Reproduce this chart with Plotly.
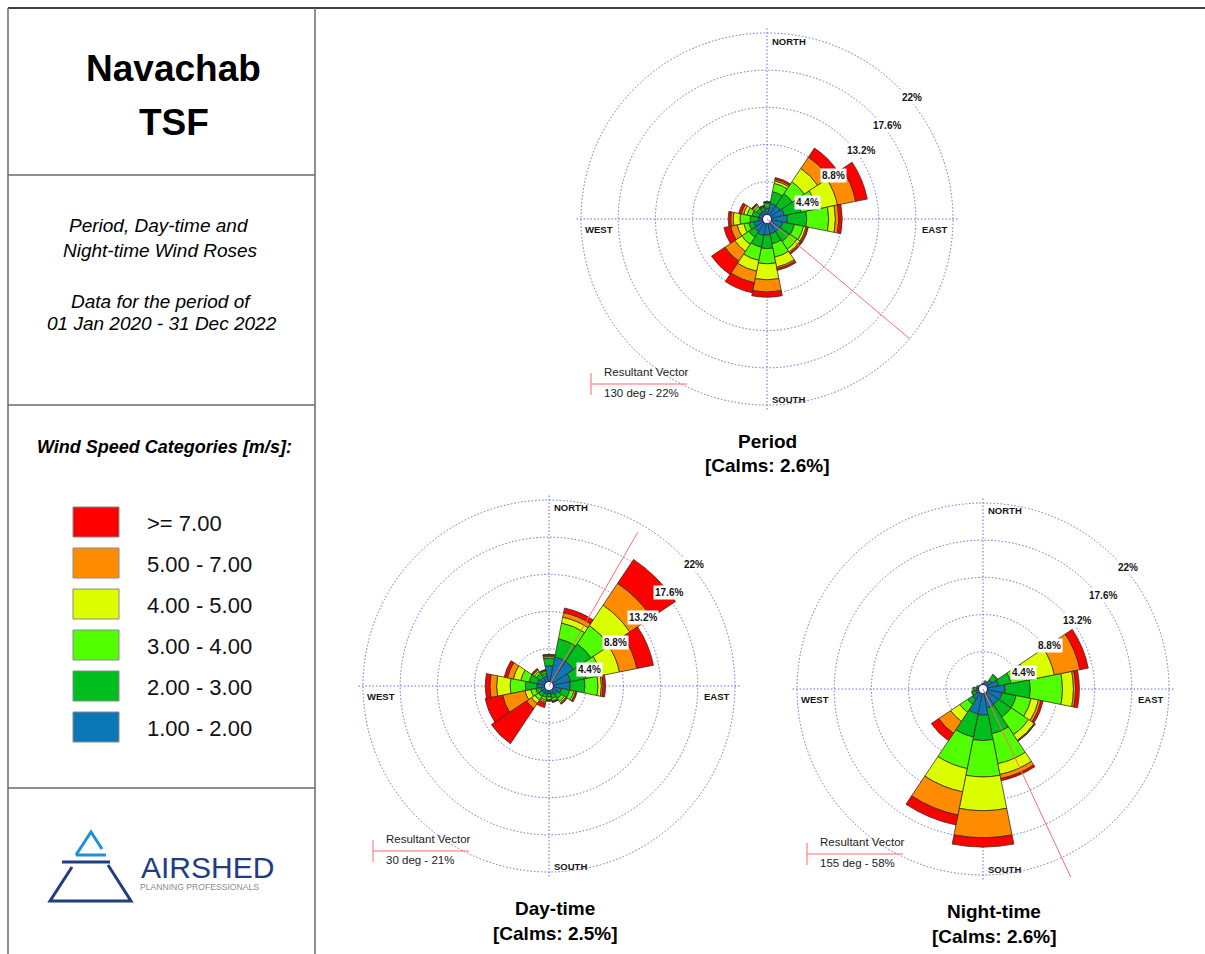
import math
import plotly.graph_objects as go

# ---------------------------------------------------------------- data
DIRECTIONS = [0, 22.5, 45, 67.5, 90, 112.5, 135, 157.5,
              180, 202.5, 225, 247.5, 270, 292.5, 315, 337.5]

SPEED_LABELS = ["1.00 - 2.00", "2.00 - 3.00", "3.00 - 4.00",
                "4.00 - 5.00", "5.00 - 7.00", ">= 7.00"]

RING_TICKS = [4.4, 8.8, 13.2, 17.6, 22]
COMPASS = ["NORTH", "EAST", "SOUTH", "WEST"]
COMPASS_DEG = [0, 90, 180, 270]

# frequency of occurrence (%) per direction, one list per speed class
PERIOD_1_2 = [1.3, 1.9, 1.9, 2.1, 2.4, 1.9, 1.8, 1.8, 1.9, 2.0, 1.8, 1.6, 1.0, 1.0, 1.0, 1.0]
PERIOD_2_3 = [0.6, 1.4, 1.7, 2.0, 2.3, 1.4, 1.4, 1.2, 1.6, 1.4, 0.8, 0.6, 1.0, 0.8, 0.5, 0.4]
PERIOD_3_4 = [0.1, 1.0, 1.7, 1.9, 2.6, 1.1, 1.1, 1.6, 1.8, 1.6, 1.0, 0.6, 1.2, 0.6, 0.3, 0.1]
PERIOD_4_5 = [0.03, 0.3, 1.9, 2.5, 0.8, 0.3, 0.4, 1.2, 1.9, 1.3, 1.0, 0.8, 0.8, 0.4, 0.2, 0.05]
PERIOD_5_7 = [0.02, 0.2, 1.6, 2.2, 0.4, 0.15, 0.15, 0.2, 1.45, 1.4, 1.4, 0.8, 0.3, 0.3, 0.1, 0.05]
PERIOD_7UP = [0.0, 0.2, 1.3, 1.4, 0.4, 0.15, 0.15, 0.2, 0.6, 1.2, 1.9, 0.8, 0.3, 0.3, 0.1, 0.05]

DAY_1_2 = [2.4, 3.5, 3.5, 2.6, 2.5, 1.5, 1.2, 1.0, 0.9, 1.0, 1.0, 1.0, 1.45, 1.4, 1.2, 1.2]
DAY_2_3 = [0.9, 2.2, 2.5, 1.9, 1.75, 1.0, 0.6, 0.5, 0.4, 0.4, 0.5, 0.6, 1.35, 1.0, 0.6, 0.4]
DAY_3_4 = [0.2, 1.9, 2.6, 1.8, 1.55, 0.5, 0.4, 0.3, 0.3, 0.3, 0.5, 0.6, 1.8, 1.0, 0.3, 0.2]
DAY_4_5 = [0.1, 0.7, 2.9, 2.2, 0.4, 0.2, 0.2, 0.1, 0.1, 0.2, 0.5, 0.7, 1.6, 0.9, 0.2, 0.1]
DAY_5_7 = [0.1, 0.55, 3.1, 2.1, 0.2, 0.1, 0.1, 0.05, 0.05, 0.2, 0.7, 2.7, 0.8, 0.7, 0.1, 0.05]
DAY_7UP = [0.05, 0.55, 3.4, 2.0, 0.3, 0.1, 0.1, 0.05, 0.05, 0.5, 5.0, 2.1, 0.55, 0.4, 0.1, 0.05]

NIGHT_1_2 = [0.5, 0.6, 1.3, 1.9, 2.6, 2.3, 2.2, 2.3, 3.1, 3.0, 1.5, 0.9, 0.8, 0.6, 0.5, 0.4]
NIGHT_2_3 = [0.2, 0.3, 0.7, 1.5, 3.0, 1.7, 1.8, 3.1, 3.0, 2.8, 0.7, 0.4, 0.3, 0.2, 0.1, 0.1]
NIGHT_3_4 = [0.0, 0.1, 0.1, 1.9, 3.8, 1.8, 2.5, 3.6, 4.3, 3.8, 1.1, 0.1, 0.1, 0.0, 0.0, 0.0]
NIGHT_4_5 = [0.0, 0.0, 0.0, 3.3, 1.3, 0.9, 0.8, 1.3, 4.0, 2.8, 1.3, 0.0, 0.0, 0.0, 0.0, 0.0]
NIGHT_5_7 = [0.0, 0.0, 0.0, 3.1, 0.25, 0.3, 0.1, 0.5, 3.2, 2.8, 1.7, 0.0, 0.0, 0.0, 0.0, 0.0]
NIGHT_7UP = [0.0, 0.0, 0.0, 1.0, 0.45, 0.25, 0.05, 0.25, 1.1, 1.2, 1.05, 0.0, 0.0, 0.0, 0.0, 0.0]

ROSE_TITLES = ["Period", "Day-time", "Night-time"]
CALMS = [2.6, 2.5, 2.6]
RESULTANT_DEG = [130, 30, 155]
RESULTANT_PCT = [22, 21, 58]

# ---------------------------------------------------------------- styling
W, H = 1205, 954
OUTER = RING_TICKS[-1]
PX_PER_PCT = 186 / OUTER        # pixels per percent on every rose
RMAX = 22.6                     # radial range of the rose subplots
VMAX = 25.5                     # radial range of the resultant-vector overlays
SPEED_COLOURS = ["#0A78B4", "#00BE1E", "#52FF00", "#DCFF00", "#FF8C00", "#FF0000"]
OUTLINE = "#3a2e22"
GRID = "#6b6bd6"
GRID_DASH = "1.5px,2px"
VECTOR = "#FF6B6B"
NAVY = "#223C82"
SANS = "Liberation Sans, Arial, sans-serif"

CENTRES = [(767, 219), (549, 686), (983, 689)]
TITLE_X = [767, 555, 994]
LABEL_THETA = [68, 57, 54, 52, 50]
LABEL_PAD = [0.8, 0.55, 0.5, 0.4, 0.35]


def fx(x):
    return x / W


def fy(y):
    return 1 - y / H


def domain(cx, cy, rmax):
    rp = rmax * PX_PER_PCT
    return dict(x=[fx(cx - rp), fx(cx + rp)], y=[fy(cy + rp), fy(cy - rp)])


speed_sets = [
    [PERIOD_1_2, PERIOD_2_3, PERIOD_3_4, PERIOD_4_5, PERIOD_5_7, PERIOD_7UP],
    [DAY_1_2, DAY_2_3, DAY_3_4, DAY_4_5, DAY_5_7, DAY_7UP],
    [NIGHT_1_2, NIGHT_2_3, NIGHT_3_4, NIGHT_4_5, NIGHT_5_7, NIGHT_7UP],
]

fig = go.Figure()
shapes, annotations = [], []
layout_polars = {}
ring_font = dict(family=SANS, size=10, color="#151515", weight="bold")
compass_font = dict(family=SANS, size=9.5, color="#151515", weight="bold")

for i, (classes, (cx, cy)) in enumerate(zip(speed_sets, CENTRES)):
    pid = "polar" if i == 0 else f"polar{i + 1}"
    vid = f"polar{i + 4}"

    # stacked speed classes
    for vals, label, colour in zip(classes, SPEED_LABELS, SPEED_COLOURS):
        fig.add_trace(go.Barpolar(
            r=vals, theta=DIRECTIONS, width=[22.5] * len(DIRECTIONS),
            marker=dict(color=colour, line=dict(color=OUTLINE, width=0.8)),
            name=label, subplot=pid, showlegend=False, hoverinfo="skip"))

    # centre marker
    fig.add_trace(go.Scatterpolar(
        r=[0], theta=[0], mode="markers",
        marker=dict(size=9, color="white", line=dict(color="#1c1c9a", width=1.2)),
        subplot=pid, showlegend=False, hoverinfo="skip"))

    # resultant vector on a wider transparent overlay of the same rose
    fig.add_trace(go.Scatterpolar(
        r=[0, RESULTANT_PCT[i]], theta=[RESULTANT_DEG[i]] * 2, mode="lines",
        line=dict(color=VECTOR, width=1),
        subplot=vid, showlegend=False, hoverinfo="skip"))

    layout_polars[pid] = dict(
        domain=domain(cx, cy, RMAX),
        bgcolor="white",
        barmode="stack",
        radialaxis=dict(range=[0, RMAX], tickvals=RING_TICKS, showticklabels=False,
                        ticks="", showline=False, showgrid=True, gridcolor=GRID,
                        griddash=GRID_DASH, gridwidth=1),
        angularaxis=dict(direction="clockwise", rotation=90, tickvals=COMPASS_DEG,
                         showticklabels=False, ticks="", showline=False,
                         showgrid=True, gridcolor=GRID, griddash=GRID_DASH, gridwidth=1),
    )
    layout_polars[vid] = dict(
        domain=domain(cx, cy, VMAX),
        bgcolor="rgba(0,0,0,0)",
        radialaxis=dict(range=[0, VMAX], visible=False),
        angularaxis=dict(direction="clockwise", rotation=90, visible=False),
    )

    # ring percentage labels
    for tick, pad, ang in zip(RING_TICKS, LABEL_PAD, LABEL_THETA):
        rp = (tick + pad) * PX_PER_PCT
        a = math.radians(ang)
        annotations.append(dict(x=fx(cx + rp * math.sin(a)), y=fy(cy - rp * math.cos(a)),
                                text=f"{tick:g}%", font=ring_font,
                                bgcolor="white", borderpad=1))

    # compass points
    edge = OUTER * PX_PER_PCT
    annotations += [
        dict(x=fx(cx + 3), y=fy(cy - edge + 8), xanchor="left", text=COMPASS[0], font=compass_font),
        dict(x=fx(cx + edge - 3), y=fy(cy + 10), xanchor="right", text=COMPASS[1], font=compass_font),
        dict(x=fx(cx + 3), y=fy(cy + edge - 6), xanchor="left", text=COMPASS[2], font=compass_font),
        dict(x=fx(cx - edge + 2), y=fy(cy + 10), xanchor="left", text=COMPASS[3], font=compass_font),
    ]

    # rose titles
    title_font = dict(family=SANS, size=19, color="#000", weight="bold")
    annotations.append(dict(x=fx(TITLE_X[i]), y=fy(cy + 222), text=ROSE_TITLES[i],
                            font=title_font))
    annotations.append(dict(x=fx(TITLE_X[i]), y=fy(cy + 247),
                            text=f"[Calms: {CALMS[i]:g}%]", font=title_font))

    # resultant vector key
    shapes.append(dict(type="line", x0=fx(cx - 176), x1=fx(cx - 176),
                       y0=fy(cy + 154), y1=fy(cy + 176), line=dict(color=VECTOR, width=1)))
    shapes.append(dict(type="line", x0=fx(cx - 176), x1=fx(cx - 80),
                       y0=fy(cy + 165), y1=fy(cy + 165), line=dict(color=VECTOR, width=1)))
    annotations.append(dict(x=fx(cx - 165), y=fy(cy + 153), xanchor="left",
                            text="Resultant Vector",
                            font=dict(family=SANS, size=11.5, color="#222")))
    annotations.append(dict(x=fx(cx - 165), y=fy(cy + 174), xanchor="left",
                            text=f"{RESULTANT_DEG[i]} deg - {RESULTANT_PCT[i]}%",
                            font=dict(family=SANS, size=11.5, color="#222")))

# the drawing frame ends above the night-time caption
shapes.append(dict(type="rect", x0=fx(1056), x1=1, y0=0, y1=fy(877),
                   fillcolor="white", line=dict(width=0), layer="above"))

# ---------------------------------------------------------------- frame
FRAME = "#6a6a6a"
shapes += [
    dict(type="line", x0=fx(8), x1=1, y0=fy(8), y1=fy(8), line=dict(color="#000", width=1.5)),
    dict(type="line", x0=fx(8), x1=fx(8), y0=0, y1=fy(8), line=dict(color=FRAME, width=1.5)),
    dict(type="line", x0=fx(315), x1=fx(315), y0=0, y1=fy(8), line=dict(color=FRAME, width=1.5)),
]
for yy in (175, 405, 788):
    shapes.append(dict(type="line", x0=fx(8), x1=fx(315), y0=fy(yy), y1=fy(yy),
                       line=dict(color=FRAME, width=1.5)))

# title block
annotations.append(dict(x=fx(174), y=fy(69), text="Navachab",
                        font=dict(family=SANS, size=37, color="#000", weight="bold")))
annotations.append(dict(x=fx(174), y=fy(122), text="TSF",
                        font=dict(family=SANS, size=37, color="#000", weight="bold")))
for text, (x, y) in zip(["Period, Day-time and", "Night-time Wind Roses",
                         "Data for the period of", "01 Jan 2020 - 31 Dec 2022"],
                        [(159, 225), (160, 250), (161, 301), (162, 324)]):
    annotations.append(dict(x=fx(x), y=fy(y), text=text,
                            font=dict(family=SANS, size=19, color="#000", style="italic")))

# speed legend
annotations.append(dict(x=fx(164), y=fy(447), text="Wind Speed Categories [m/s]:",
                        font=dict(family=SANS, size=18, color="#000",
                                  weight="bold", style="italic")))
for k, (label, colour) in enumerate(zip(SPEED_LABELS[::-1], SPEED_COLOURS[::-1])):
    top = 507 + 41 * k
    shapes.append(dict(type="rect", x0=fx(73), x1=fx(119), y0=fy(top + 30), y1=fy(top),
                       fillcolor=colour, line=dict(color="#8a8a8a", width=1)))
    annotations.append(dict(x=fx(145), y=fy(top + 16), xanchor="left", text=label,
                            font=dict(family=SANS, size=22, color="#111")))

# company logo
LIGHT_BLUE = "#1f8fd8"
shapes += [
    dict(type="path", path=f"M {fx(76)},{fy(855)} L {fx(91)},{fy(832)} L {fx(102)},{fy(849)}",
         line=dict(color=LIGHT_BLUE, width=3)),
    dict(type="line", x0=fx(76), x1=fx(106), y0=fy(855), y1=fy(855),
         line=dict(color=LIGHT_BLUE, width=3)),
    dict(type="line", x0=fx(62), x1=fx(110), y0=fy(862), y1=fy(862),
         line=dict(color=NAVY, width=3)),
    dict(type="path",
         path=f"M {fx(72)},{fy(867)} L {fx(50)},{fy(901)} L {fx(131)},{fy(901)} L {fx(108)},{fy(865)}",
         line=dict(color=NAVY, width=3)),
]
annotations.append(dict(x=fx(139), y=fy(867), xanchor="left", text="AIRSHED",
                        font=dict(family=SANS, size=30, color=NAVY)))
annotations.append(dict(x=fx(138), y=fy(887), xanchor="left", text="PLANNING PROFESSIONALS",
                        font=dict(family=SANS, size=8.6, color="#8c8c8c")))

for a in annotations:
    a.setdefault("xref", "paper")
    a.setdefault("yref", "paper")
    a.setdefault("showarrow", False)
    a.setdefault("yanchor", "middle")
    a.setdefault("xanchor", "center")

for s in shapes:
    s.setdefault("xref", "paper")
    s.setdefault("yref", "paper")

fig.update_layout(
    width=W, height=H,
    margin=dict(l=0, r=0, t=0, b=0),
    paper_bgcolor="white",
    plot_bgcolor="white",
    showlegend=False,
    shapes=shapes,
    annotations=annotations,
    **layout_polars,
)

fig.write_html("out.html")
